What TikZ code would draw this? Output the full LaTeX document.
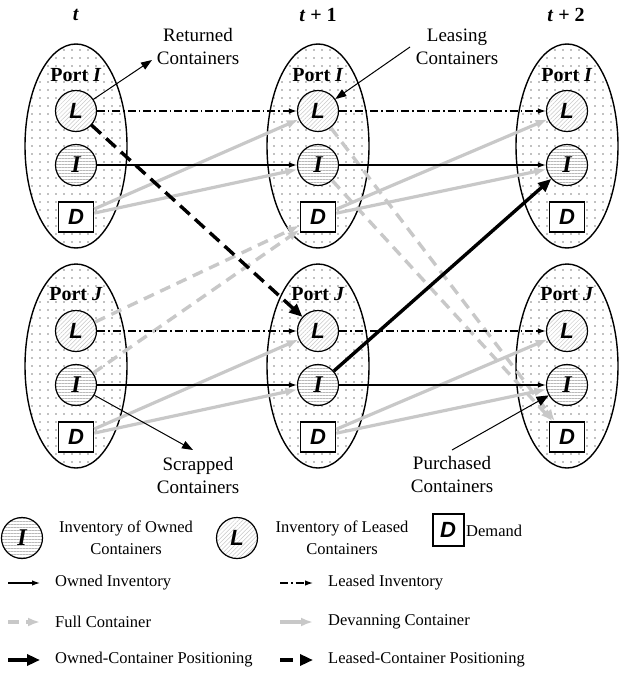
\documentclass[tikz,border=0pt]{standalone}
\usepackage{fontspec}
\setmainfont{Liberation Serif}
\newfontfamily\letterfont{Liberation Sans}
\usetikzlibrary{arrows.meta,patterns.meta,shapes.geometric}

\definecolor{lgray}{RGB}{200,200,200}
\definecolor{dotgray}{RGB}{130,130,130}
\definecolor{hatchgray}{RGB}{185,185,185}
\definecolor{diaggray}{RGB}{200,200,200}

\tikzset{
  portell/.style={ellipse, draw, line width=1.4pt, inner sep=0pt,
    minimum width=102pt, minimum height=204pt},
  portdot/.style={fill=dotgray},
  lcirc/.style={circle, draw, line width=1.2pt, inner sep=0pt, minimum size=41pt,
    preaction={fill=white},
    pattern={Lines[angle=45, distance=3pt, line width=0.5pt]}, pattern color=diaggray,
    font=\fontsize{22}{22}\selectfont\letterfont\bfseries\itshape},
  icirc/.style={circle, draw, line width=1.2pt, inner sep=0pt, minimum size=41pt,
    preaction={fill=white},
    pattern={Lines[angle=0, distance=3pt, line width=0.8pt]}, pattern color=hatchgray,
    font=\fontsize{24}{24}\selectfont\bfseries\itshape},
  dbox/.style={rectangle, draw, line width=1.5pt, fill=white, inner sep=0pt,
    minimum width=35pt, minimum height=30pt,
    font=\fontsize{22}{22}\selectfont\letterfont\bfseries\itshape},
  timelab/.style={font=\fontsize{20}{20}\selectfont\bfseries},
  portlab/.style={font=\fontsize{20}{20}\selectfont\bfseries, inner sep=0pt},
  notetext/.style={align=center, font=\fontsize{19}{23}\selectfont, inner sep=0pt},
  legtext/.style={align=center, font=\fontsize{16.5}{22}\selectfont, inner sep=0pt},
  owned/.style={line width=1.2pt, -{Latex[length=8pt,width=5.5pt]}},
  leased/.style={line width=1.2pt, dash pattern=on 8pt off 3pt on 1.5pt off 3pt,
    -{Latex[length=8pt,width=5.5pt]}},
  fullc/.style={draw=lgray, line width=3.4pt, dash pattern=on 11pt off 7pt,
    -{Latex[length=12pt,width=9pt,fill=lgray]}},
  devan/.style={draw=lgray, line width=3.2pt, -{Latex[length=12pt,width=9pt,fill=lgray]}},
  opos/.style={line width=3.4pt, -{Triangle[length=13pt,width=11pt]}},
  lpos/.style={line width=3.4pt, dash pattern=on 13pt off 7pt,
    -{Triangle[length=13pt,width=11pt]}},
  notearrow/.style={line width=1pt, -{Triangle[length=11pt,width=8pt]}},
  bigtip/.style={line width=1pt, -{Triangle[length=12pt,width=10pt]}}
}

\begin{document}
\begin{tikzpicture}[x=1pt,y=-1pt]
\useasboundingbox (0,0) rectangle (622,674);

% time stages
\node[timelab] (t0) at (76,15) {\textit{t}};
\node[timelab] (t1) at (318,15) {\textit{t} + 1};
\node[timelab] (t2) at (566,15) {\textit{t} + 2};

% dotted interior of the port ellipses
\foreach \x in {76,318,567}{
  \foreach \yc in {146,366}{
    \begin{scope}
      \clip (\x,\yc) ellipse [x radius=50pt, y radius=101pt];
      \foreach \i in {-7,...,6}{
        \foreach \j in {-13,...,13}{
          \fill[portdot] (\x+8*\i+4, \yc+8*\j) circle [radius=0.85pt];
        }
      }
    \end{scope}
  }
}

% port ellipses
\foreach \c/\x in {1/76,2/318,3/567}{
  \node[portell] (E\c a) at (\x,146) {};
  \node[portell] (E\c b) at (\x,366) {};
}

% port labels and inventory / demand nodes
\foreach \c/\x in {1/76,2/318,3/567}{
  \node[portlab] (P\c a) at (\x,75) {Port \textit{I}};
  \node[portlab] (P\c b) at (\x,294) {Port \textit{J}};
  \node[lcirc] (L\c a) at (\x,111) {L};
  \node[icirc] (I\c a) at (\x,165) {I};
  \node[dbox]  (D\c a) at (\x,217) {D};
  \node[lcirc] (L\c b) at (\x,331) {L};
  \node[icirc] (I\c b) at (\x,385) {I};
  \node[dbox]  (D\c b) at (\x,437) {D};
}

% annotations
\node[notetext] (ret) at (198,47) {Returned\\Containers};
\node[notetext] (lea) at (457,47) {Leasing\\Containers};
\node[notetext] (scr) at (198,475) {Scrapped\\Containers};
\node[notetext] (pur) at (452,474) {Purchased\\Containers};
\coordinate (retTip) at (152,60);
\coordinate (leaFrom) at (410,47);
\coordinate (scrTip) at (193,450);
\coordinate (purFrom) at (452,450);

% devanning containers
\foreach \p in {a,b}{
  \draw[devan] (D1\p) -- (L2\p);
  \draw[devan] (D1\p) -- (I2\p);
  \draw[devan] (D2\p) -- (L3\p);
  \draw[devan] (D2\p) -- (I3\p);
}

% full containers between ports
\draw[fullc] (L1b) -- (D2a);
\draw[fullc] (I1b) -- (D2a);
\draw[fullc] (L2a) -- (D3b);
\draw[fullc] (I2a) -- (D3b);

% owned and leased inventory carried over
\foreach \p in {a,b}{
  \draw[owned] (I1\p) -- (I2\p);
  \draw[owned] (I2\p) -- (I3\p);
  \draw[leased] (L1\p) -- (L2\p);
  \draw[leased] (L2\p) -- (L3\p);
}

% positioning
\draw[lpos] (L1a) -- (L2b);
\draw[opos] (I2b) -- (I3a);

% annotation arrows
\draw[notearrow] (L1a) -- (retTip);
\draw[notearrow] (leaFrom) -- (L2a);
\draw[notearrow] (I1b) -- (scrTip);
\draw[bigtip] (purFrom) -- (I3b);

% legend: symbols
\node[icirc] (legI) at (22,538) {I};
\node[legtext] (legIt) at (126,538) {Inventory of Owned\\Containers};
\node[lcirc] (legL) at (237,538) {L};
\node[legtext] (legLt) at (342,538) {Inventory of Leased\\Containers};
\node[dbox, line width=2pt, minimum width=31pt, minimum height=32pt] (legD) at (448,530) {D};
\node[legtext, anchor=west] (legDt) at (466,531) {Demand};

% legend: flows
\coordinate (f1s) at (8,583);   \coordinate (f1e) at (40,583);
\coordinate (f2s) at (280,583); \coordinate (f2e) at (313,583);
\coordinate (f3s) at (8,622);   \coordinate (f3e) at (40,622);
\coordinate (f4s) at (280,622); \coordinate (f4e) at (313,622);
\coordinate (f5s) at (8,660);   \coordinate (f5e) at (40,660);
\coordinate (f6s) at (280,660); \coordinate (f6e) at (313,660);
\draw[owned] (f1s) -- (f1e);
\draw[leased] (f2s) -- (f2e);
\draw[fullc] (f3s) -- (f3e);
\draw[devan] (f4s) -- (f4e);
\draw[opos] (f5s) -- (f5e);
\draw[lpos] (f6s) -- (f6e);
\node[legtext, anchor=west] (g1) at (55,583) {Owned Inventory};
\node[legtext, anchor=west] (g2) at (328,583) {Leased Inventory};
\node[legtext, anchor=west] (g3) at (55,622) {Full Container};
\node[legtext, anchor=west] (g4) at (328,622) {Devanning Container};
\node[legtext, anchor=west] (g5) at (55,660) {Owned-Container Positioning};
\node[legtext, anchor=west] (g6) at (328,660) {Leased-Container Positioning};
\end{tikzpicture}
\end{document}
